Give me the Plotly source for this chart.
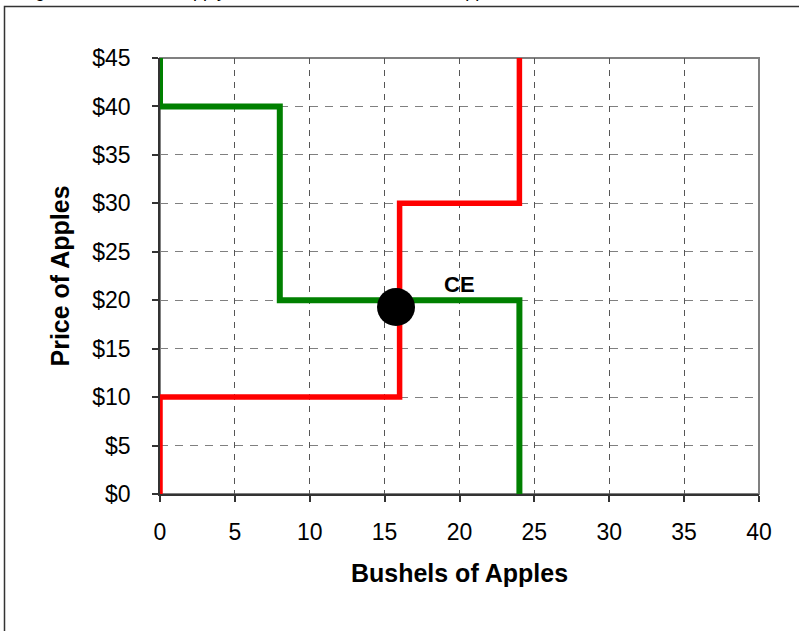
import plotly.graph_objects as go

# Data
demand_x = [0, 0, 8, 8, 24, 24]
demand_p = [45, 40, 40, 20, 20, 0]
supply_x = [0, 0, 16, 16, 24, 24]
supply_p = [0, 10, 10, 30, 30, 45]
ce_x = [15.76]
ce_p = [19.3]
ce_label = "CE"
ce_label_x = 20.0
ce_label_p = 21.6
x_ticks = [0, 5, 10, 15, 20, 25, 30, 35, 40]
y_ticks = [0, 5, 10, 15, 20, 25, 30, 35, 40, 45]
y_labels = ["$" + str(v) for v in y_ticks]
title_text = "Figure 3.1: Market Supply and Demand Schedules for Apples, Market A"

W, H = 799, 631
L, R, T, B = 160, 40, 58, 137
pw, ph = W - L - R, H - T - B

def px_to_paper_x(px):
    return (px - L) / pw

def px_to_paper_y(py):
    return (H - B - py) / ph

fig = go.Figure()
fig.add_trace(go.Scatter(x=demand_x, y=demand_p, mode="lines",
                         line=dict(color="#008000", width=6), showlegend=False,
                         hoverinfo="skip"))
fig.add_trace(go.Scatter(x=supply_x, y=supply_p, mode="lines",
                         line=dict(color="#FF0000", width=5.5), showlegend=False,
                         hoverinfo="skip"))
fig.add_trace(go.Scatter(x=ce_x, y=ce_p, mode="markers",
                         marker=dict(color="black", size=38), showlegend=False,
                         cliponaxis=False, hoverinfo="skip"))

font_family = "Liberation Sans, Arial, sans-serif"

fig.update_layout(
    width=W, height=H,
    margin=dict(l=L, r=R, t=T, b=B, autoexpand=False),
    paper_bgcolor="white", plot_bgcolor="white",
    font=dict(family=font_family, color="black"),
    xaxis=dict(
        range=[0, 40], tickvals=x_ticks, ticktext=[str(v) for v in x_ticks],
        showline=True, linecolor="#333", linewidth=1.5,
        ticks="outside", ticklen=6, tickcolor="#333", tickwidth=1.5,
        tickfont=dict(size=23), ticklabelstandoff=11,
        showgrid=True, gridcolor="#555", gridwidth=1, griddash="6px,6px",
        zeroline=False, automargin=False,
        title=dict(text="<b>Bushels of Apples</b>", font=dict(size=25), standoff=20),
    ),
    yaxis=dict(
        range=[0, 45], tickvals=y_ticks, ticktext=y_labels,
        showline=True, linecolor="#333", linewidth=1.5,
        ticks="outside", ticklen=6, tickcolor="#333", tickwidth=1.5,
        tickfont=dict(size=23), ticklabelstandoff=17,
        showgrid=True, gridcolor="#808080", gridwidth=1, griddash="8px,7px",
        zeroline=False, automargin=False,
        title=dict(text="<b>Price of Apples</b>", font=dict(size=25), standoff=16),
    ),
    shapes=[
        # gray plot border (top/right)
        dict(type="rect", xref="paper", yref="paper", x0=0, x1=1, y0=0, y1=1,
             line=dict(color="#808080", width=2), layer="below"),
        # outer frame
        dict(type="rect", xref="paper", yref="paper",
             x0=px_to_paper_x(4.5), x1=px_to_paper_x(900),
             y0=px_to_paper_y(800), y1=px_to_paper_y(6.5),
             line=dict(color="#333", width=1.5), layer="above"),
    ],
    annotations=[
        dict(x=ce_label_x, y=ce_label_p, xref="x", yref="y", text="<b>" + ce_label + "</b>",
             showarrow=False, font=dict(size=22, color="black")),
        dict(x=px_to_paper_x(18), y=px_to_paper_y(3), xref="paper", yref="paper",
             xanchor="left", yanchor="bottom", text=title_text, showarrow=False,
             font=dict(size=18, color="black")),
    ],
)

fig.write_html("out.html", config={"displayModeBar": False},
               post_script="document.body.style.margin='0';document.body.style.overflow='hidden';")
